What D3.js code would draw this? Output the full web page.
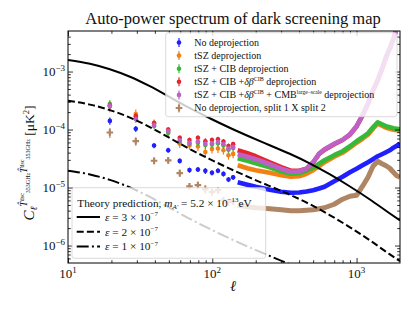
<!DOCTYPE html>
<html>
<head>
<meta charset="utf-8">
<script src="https://cdn.jsdelivr.net/npm/d3@7"></script>
<style>
  body { margin: 0; background: #fff; }
  text { font-family: "Liberation Serif", "DejaVu Serif", serif; fill: #111; }
</style>
</head>
<body>
<svg id="chart" width="415" height="311"></svg>
<script>
// ---- data ----
const theoryEll = [10, 14.2, 19.5, 26.9, 36.9, 50.8, 69.9, 96.1, 132, 182, 250, 344, 473, 650, 894, 1230, 1692, 2000];
const eps3 = [1.585e-3, 1.362e-3, 1.096e-3, 8.13e-4, 5.58e-4, 3.61e-4, 2.33e-4, 1.566e-4, 1.074e-4, 7.51e-5, 5.36e-5, 3.83e-5, 2.62e-5, 1.70e-5, 1.053e-5, 6.29e-6, 3.60e-6, 2.7e-6];
const eps2 = [3.13e-4, 2.69e-4, 2.165e-4, 1.606e-4, 1.102e-4, 7.13e-5, 4.60e-5, 3.09e-5, 2.12e-5, 1.483e-5, 1.059e-5, 7.56e-6, 5.17e-6, 3.36e-6, 2.08e-6, 1.242e-6, 7.1e-7, 5.4e-7];
const eps1 = [1.958e-5, 1.682e-5, 1.354e-5, 1.004e-5, 6.89e-6, 4.46e-6, 2.88e-6, 1.934e-6, 1.326e-6, 9.27e-7, 6.62e-7, 4.73e-7, 3.23e-7, 2.1e-7, 1.3e-7, 7.8e-8, 4.4e-8, 3.4e-8];

// binned low-ell points
const ellBins = [19.5, 29.5, 39.5, 49.5, 59.5, 69.5, 79.5, 89.5, 99.5, 109.5, 119.5, 129.5, 139.5];
const errBins = [0.14, 0.12, 0.1, 0.1, 0.1, 0.1, 0.1, 0.12, 0.1, 0.1, 0.1, 0.1, 0.1];
const blueBins   = [1.41e-4, 1.03e-4, 5.3e-5, 4.4e-5, 2.88e-5, 2.0e-5, 2.05e-5, 1.94e-5, 1.8e-5, 1.95e-5, 1.72e-5, 1.38e-5, 1.5e-5];
const orangeBins = [2.55e-4, 1.85e-4, 1.28e-4, 9.3e-5, 5.7e-5, 5.3e-5, 5.1e-5, 4.1e-5, 4.6e-5, 4.7e-5, 4.4e-5, 3.6e-5, 3.8e-5];
const greenBins  = [2.75e-4, 1.55e-4, 1.15e-4, 8.7e-5, 6.2e-5, 5.7e-5, 5.9e-5, 5.4e-5, 5.5e-5, 5.8e-5, 5.3e-5, 4.5e-5, 4.8e-5];
const redBins    = [2.6e-4, 1.70e-4, 1.30e-4, 1.0e-4, 7.2e-5, 6.6e-5, 7.2e-5, 6.3e-5, 6.6e-5, 6.8e-5, 6.2e-5, 5.2e-5, 5.6e-5];
const purpleBins = [2.55e-4, 1.50e-4, 1.19e-4, 9.4e-5, 6.5e-5, 5.9e-5, 6.2e-5, 5.7e-5, 5.8e-5, 6.1e-5, 5.6e-5, 4.7e-5, 5.0e-5];
const brownBins  = [8.9e-5, 6.3e-5, 2.9e-5, 2.95e-5, 1.77e-5, 1.05e-5, 1.1e-5, 9.4e-6, 8.4e-6, 9.0e-6, 6.0e-6, 5.6e-6, 5.8e-6];

// dense high-ell points
const ellDense = [150, 175, 200, 250, 300, 350, 400, 450, 500, 550, 600, 700, 800, 900, 1000, 1100, 1200, 1300, 1400, 1500, 1600, 1700, 1800, 1900, 2000];
const blueDense   = [1.234e-5, 1.117e-5, 1.032e-5, 9.17e-6, 8.47e-6, 8.13e-6, 8.20e-6, 8.57e-6, 8.98e-6, 9.61e-6, 1.032e-5, 1.284e-5, 1.536e-5, 1.836e-5, 2.11e-5, 2.42e-5, 2.73e-5, 3.08e-5, 3.46e-5, 3.75e-5, 4.06e-5, 4.39e-5, 4.86e-5, 5.26e-5, 5.69e-5];
const orangeDense = [2.42e-5, 2.15e-5, 1.99e-5, 1.80e-5, 1.63e-5, 1.536e-5, 1.566e-5, 1.73e-5, 1.99e-5, 2.33e-5, 2.73e-5, 3.40e-5, 3.98e-5, 4.86e-5, 5.92e-5, 6.94e-5, 8.13e-5, 1.032e-4, 1.259e-4, 1.163e-4, 1.074e-4, 1.032e-4, 9.92e-5, 9.72e-5, 9.53e-5];
const greenDense  = [3.20e-5, 2.90e-5, 2.62e-5, 2.24e-5, 1.91e-5, 1.73e-5, 1.764e-5, 1.949e-5, 2.195e-5, 2.57e-5, 2.96e-5, 3.61e-5, 4.22e-5, 5.15e-5, 6.29e-5, 7.36e-5, 8.63e-5, 1.096e-4, 1.336e-4, 1.234e-4, 1.14e-4, 1.096e-4, 1.053e-4, 1.032e-4, 1.012e-4];
const redDense    = [4.39e-5, 3.90e-5, 3.46e-5, 2.73e-5, 2.24e-5, 1.95e-5, 1.95e-5, 2.1e-5, 2.7e-5, 3.8e-5, 4.5e-5, 5.6e-5, 6.6e-5, 8.2e-5, 1.13e-4, 1.75e-4, 2.8e-4, 4.7e-4, 7.0e-4, 1.1e-3, 1.75e-3, 2.5e-3, 3.6e-3, 5.7e-3, 9.6e-3];
const purpleDense = [3.75e-5, 3.40e-5, 3.08e-5, 2.52e-5, 2.11e-5, 1.873e-5, 1.91e-5, 2.11e-5, 2.73e-5, 3.83e-5, 4.57e-5, 5.69e-5, 6.67e-5, 8.30e-5, 1.14e-4, 1.764e-4, 2.84e-4, 4.76e-4, 7.08e-4, 1.117e-3, 1.764e-3, 2.52e-3, 3.61e-3, 5.80e-3, 9.7e-3];
const brownDense  = [4.95e-6, 4.67e-6, 4.48e-6, 4.31e-6, 4.14e-6, 3.98e-6, 3.98e-6, 4.06e-6, 4.14e-6, 4.31e-6, 4.48e-6, 5.15e-6, 6.29e-6, 7.08e-6, 7.36e-6, 1.053e-5, 1.505e-5, 2.33e-5, 2.84e-5, 2.57e-5, 2.38e-5, 2.15e-5, 1.836e-5, 1.60e-5, 1.505e-5];

// ---- chart ----
const svg = d3.select('#chart');
const L = 68, R = 400, T = 31, B = 263;

const x = d3.scaleLog().domain([10, 2000]).range([L, R]);
const y = d3.scaleLog().domain([5e-7, 5e-3]).range([B, T]);

svg.append('defs').append('clipPath').attr('id', 'clip')
  .append('rect').attr('x', L).attr('y', T).attr('width', R - L).attr('height', B - T);

const plot = svg.append('g').attr('clip-path', 'url(#clip)');

const series = [
  { bins: blueBins,   dense: blueDense,   color: '#1f1fff', marker: 'circle', errScale: 1 },
  { bins: orangeBins, dense: orangeDense, color: '#f47f12', marker: 'circle', errScale: 1.6 },
  { bins: greenBins,  dense: greenDense,  color: '#38b838', marker: 'circle', errScale: 1.2 },
  { bins: redBins,    dense: redDense,    color: '#e4262c', marker: 'circle', errScale: 1 },
  { bins: purpleBins, dense: purpleDense, color: '#bf60c6', marker: 'circle', errScale: 1 },
  { bins: brownBins,  dense: brownDense,  color: '#b08564', marker: 'plus',   errScale: 1.4 }
];

const plusPath = d3.symbol().type(d3.symbolCross).size(24);

function drawMarker(g, cx, cy, s) {
  if (s.marker === 'circle') {
    g.append('circle').attr('cx', cx).attr('cy', cy).attr('r', 2.3).attr('fill', s.color);
  } else {
    g.append('path').attr('d', plusPath).attr('transform', `translate(${cx},${cy})`).attr('fill', s.color);
  }
}

const line = d3.line().x(d => x(d[0])).y(d => y(d[1]));

series.forEach((s) => {
  const g = plot.append('g');
  // binned points with error bars
  ellBins.forEach((l, i) => {
    const v = s.bins[i];
    const e = errBins[i] * s.errScale;
    g.append('line')
      .attr('x1', x(l)).attr('x2', x(l))
      .attr('y1', y(v * (1 + e))).attr('y2', y(v * (1 - e)))
      .attr('stroke', s.color).attr('stroke-width', 1.2);
    drawMarker(g, x(l), y(v), s);
  });
  // dense high-ell band
  g.append('path')
    .datum(ellDense.map((l, i) => [l, s.dense[i]]))
    .attr('d', line)
    .attr('fill', 'none')
    .attr('stroke', s.color)
    .attr('stroke-width', s.marker === 'plus' ? 5 : 4.6)
    .attr('stroke-linejoin', 'round');
});

// theory curves
const theory = [
  { vals: eps3, dash: null },
  { vals: eps2, dash: '7,3.2' },
  { vals: eps1, dash: '12,3.2,2,3.2' }
];
theory.forEach(t => {
  plot.append('path')
    .datum(theoryEll.map((l, i) => [l, t.vals[i]]))
    .attr('d', d3.line().curve(d3.curveMonotoneX).x(d => x(d[0])).y(d => y(d[1])))
    .attr('fill', 'none')
    .attr('stroke', '#000')
    .attr('stroke-width', 2)
    .attr('stroke-dasharray', t.dash);
});

// ---- axes (ticks inward on all four sides) ----
const xMajor = [10, 100, 1000];
const xMinor = [];
[10, 100, 1000].forEach(d => { for (let k = 2; k <= 9; k++) if (d * k < 2000) xMinor.push(d * k); });
const yMajor = [1e-6, 1e-5, 1e-4, 1e-3];
const yMinor = [];
[1e-7, 1e-6, 1e-5, 1e-4, 1e-3].forEach(d => { for (let k = 2; k <= 9; k++) { const v = d * k; if (v > 5e-7 && v < 5e-3) yMinor.push(v); } });

function ticks(axisFn, scale, vals, size, tr) {
  svg.append('g').attr('transform', tr)
    .call(axisFn(scale).tickValues(vals).tickSize(size).tickFormat(''))
    .call(g => g.select('.domain').remove())
    .call(g => g.selectAll('line').attr('stroke', '#000').attr('stroke-width', 0.8));
}
ticks(d3.axisBottom, x, xMajor, -5, `translate(0,${B})`);
ticks(d3.axisBottom, x, xMinor, -2.8, `translate(0,${B})`);
ticks(d3.axisTop, x, xMajor, -5, `translate(0,${T})`);
ticks(d3.axisTop, x, xMinor, -2.8, `translate(0,${T})`);
ticks(d3.axisLeft, y, yMajor, -5, `translate(${L},0)`);
ticks(d3.axisLeft, y, yMinor, -2.8, `translate(${L},0)`);
ticks(d3.axisRight, y, yMajor, -5, `translate(${R},0)`);
ticks(d3.axisRight, y, yMinor, -2.8, `translate(${R},0)`);

svg.append('rect').attr('x', L).attr('y', T).attr('width', R - L).attr('height', B - T)
  .attr('fill', 'none').attr('stroke', '#000').attr('stroke-width', 1);

// tick labels
const xLabels = ['1', '2', '3'];
xMajor.forEach((v, i) => {
  const t = svg.append('text').attr('x', x(v)).attr('y', 278).attr('text-anchor', 'middle').attr('font-size', 13);
  t.append('tspan').text('10');
  t.append('tspan').text(xLabels[i]).attr('font-size', 9).attr('dy', -5);
});
const yLabels = ['\u22126', '\u22125', '\u22124', '\u22123'];
yMajor.forEach((v, i) => {
  const t = svg.append('text').attr('x', 65).attr('y', y(v) + 4.5).attr('text-anchor', 'end').attr('font-size', 13);
  t.append('tspan').text('10');
  t.append('tspan').text(yLabels[i]).attr('font-size', 9).attr('dy', -5);
});

// axis labels
svg.append('text').attr('x', 233).attr('y', 291).attr('text-anchor', 'middle')
  .attr('font-size', 15).attr('font-style', 'italic').text('\u2113');

function rich(t, parts) {
  parts.forEach(p => {
    const s = t.append('tspan').text(p.t);
    if (p.fs) s.attr('font-size', p.fs);
    if (p.dy) s.attr('dy', p.dy);
    if (p.it) s.attr('font-style', 'italic');
  });
}
const yl = svg.append('text').attr('transform', 'translate(34,163) rotate(-90)')
  .attr('text-anchor', 'middle').attr('font-size', 13.5);
rich(yl, [
  { t: 'C', it: true, fs: 15 },
  { t: '\u2113', it: true, fs: 9.5, dy: 3 },
  { t: 'T\u0302', it: true, fs: 9.5, dy: -10.5 },
  { t: 'dsc', fs: 6, dy: -3 },
  { t: '353GHz', fs: 6, dy: 6 },
  { t: 'T\u0302', it: true, fs: 9.5, dy: -3 },
  { t: 'dsc', fs: 6, dy: -3 },
  { t: '353GHz', fs: 6, dy: 6 },
  { t: ' [\u03bcK', fs: 13.5, dy: 4.5 },
  { t: '2', fs: 8.5, dy: -5 },
  { t: ']', fs: 13.5, dy: 5 }
]);

// title
svg.append('text').attr('x', 233).attr('y', 24).attr('text-anchor', 'middle')
  .attr('font-size', 16.5).text('Auto-power spectrum of dark screening map');

// ---- legend 1 (data) ----
const lg1 = svg.append('g');
lg1.append('rect').attr('x', 165.7).attr('y', 32.7).attr('width', 231.3).attr('height', 84).attr('rx', 2.5)
  .attr('fill', '#fff').attr('fill-opacity', 0.8).attr('stroke', '#d0d0d0').attr('stroke-width', 0.8);
const legendText = [
  [{ t: 'No deprojection' }],
  [{ t: 'tSZ deprojection' }],
  [{ t: 'tSZ + CIB deprojection' }],
  [{ t: 'tSZ + CIB +' }, { t: '\u03b4\u03b2', it: true }, { t: 'CIB', fs: 6, dy: -4 }, { t: ' deprojection', dy: 4 }],
  [{ t: 'tSZ + CIB +' }, { t: '\u03b4\u03b2', it: true }, { t: 'CIB', fs: 6, dy: -4 }, { t: ' + CMB', dy: 4 }, { t: 'large\u2212scale', fs: 5.5, dy: -4 }, { t: ' deprojection', dy: 4 }],
  [{ t: 'No deprojection, split 1 X split 2' }]
];
series.forEach((s, i) => {
  const cy = 42.5 + i * 13.1;
  const g = lg1.append('g');
  g.append('line').attr('x1', 179).attr('x2', 179).attr('y1', cy - 4.5).attr('y2', cy + 4.5)
    .attr('stroke', s.color).attr('stroke-width', 1.2);
  drawMarker(g, 179, cy, s);
  const t = lg1.append('text').attr('x', 194.3).attr('y', cy + 3.3).attr('font-size', 10);
  rich(t, legendText[i]);
});

// ---- legend 2 (theory) ----
const lg2 = svg.append('g');
lg2.append('rect').attr('x', 72).attr('y', 187.7).attr('width', 193.7).attr('height', 70.6).attr('rx', 2.5)
  .attr('fill', '#fff').attr('fill-opacity', 0.8).attr('stroke', '#d0d0d0').attr('stroke-width', 0.8);
const th = lg2.append('text').attr('x', 77.3).attr('y', 206.5).attr('font-size', 11.3);
rich(th, [
  { t: 'Theory prediction, ' },
  { t: 'm', it: true },
  { t: 'A\u2032', it: true, fs: 7, dy: 2.5 },
  { t: ' = 5.2 \u00d7 10', dy: -2.5 },
  { t: '\u221213', fs: 7, dy: -4.5 },
  { t: 'eV', dy: 4.5 }
]);
const epsLabels = ['3', '2', '1'];
theory.forEach((t, i) => {
  const cy = 217 + i * 14.8;
  lg2.append('line').attr('x1', 76.7).attr('x2', 100).attr('y1', cy).attr('y2', cy)
    .attr('stroke', '#000').attr('stroke-width', 2).attr('stroke-dasharray', t.dash);
  const tx = lg2.append('text').attr('x', 105).attr('y', cy + 3.8).attr('font-size', 11.3);
  rich(tx, [
    { t: '\u03b5', it: true },
    { t: ` = ${epsLabels[i]} \u00d7 10` },
    { t: '\u22127', fs: 7, dy: -4.5 }
  ]);
});
</script>
</body>
</html>
